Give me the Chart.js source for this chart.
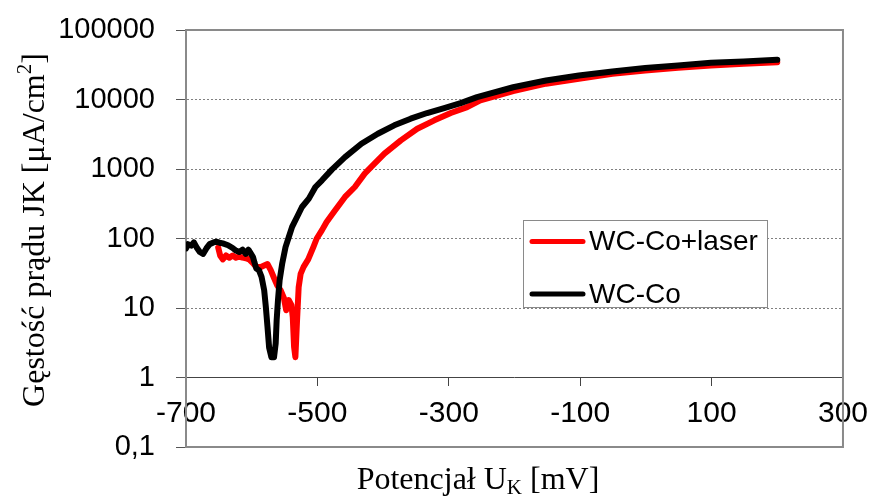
<!DOCTYPE html>
<html>
<head>
<meta charset="utf-8">
<script src="https://cdn.jsdelivr.net/npm/chart.js@4/dist/chart.umd.min.js"></script>
<style>
  html, body { margin: 0; padding: 0; background: #fff; }
  #wrap { width: 878px; height: 497px; }
</style>
</head>
<body>
<div id="wrap"><canvas id="chart"></canvas></div>
<script>
// potential U_K [mV] and current density [uA/cm2]
let laserU = [-651, -648, -644, -639, -634, -629, -624, -619, -614, -609, -604, -599, -593, -586, -581, -576, -571, -566, -561, -556, -551, -547.5, -543.5, -539.5, -537.5, -535.5, -533.5, -531, -528.5, -525.5, -521, -514, -506, -501, -493, -486, -473, -458, -443, -428, -418, -398, -373, -348, -322, -297, -272, -252, -202, -152, -102, -51, -1, 49, 99, 149, 200]
let laserJ = [74, 57, 50, 57, 53, 57, 53, 55, 53, 52, 50, 45, 39, 39, 41, 43, 35, 27, 21, 18, 14, 9.3, 13, 11, 7.4, 2.75, 1.96, 6.6, 20, 31, 39, 50, 76, 100, 132, 173, 255, 396, 551, 858, 1070, 1660, 2580, 3800, 5010, 6390, 7780, 9700, 13200, 16900, 19900, 23500, 26200, 28600, 30900, 32700, 34400]

let baseU = [-700, -697, -692, -688, -684, -679, -674, -669, -664, -659, -654, -649, -644, -636, -629, -624, -619, -614, -609, -605, -601, -598, -596, -593, -589, -585, -581, -578.5, -576, -573.5, -570, -566, -563.5, -562, -560, -557.5, -553.5, -548.5, -543.5, -538.5, -531, -523.5, -513, -503, -493, -478, -458, -433, -408, -383, -358, -333, -307, -282, -257, -202, -152, -102, -51, -1, 49, 99, 149, 200]
let baseJ = [72, 83, 79, 88, 75, 64, 60, 72, 83, 87, 90, 87, 85, 80, 73, 67, 64, 69, 60, 69, 60, 54, 46, 37, 35, 28, 18, 10.4, 5.4, 2.7, 1.96, 1.96, 3.1, 6.7, 13, 25, 44, 75, 105, 147, 204, 284, 375, 551, 687, 980, 1480, 2310, 3220, 4250, 5300, 6390, 7540, 8890, 10800, 15000, 18800, 22200, 25300, 28300, 30900, 33800, 35200, 37200]

let seriesNames = ["WC-Co+laser", "WC-Co"]
let seriesColors = ["#ff0000", "#000000"]
let xTicks = [-700, -500, -300, -100, 100, 300]
let yTicks = [0.1, 1, 10, 100, 1000, 10000, 100000]
let dottedAt = [10, 100, 1000, 10000]

function points(us, js) {
    return us.map((u, i) => ({ x: u, y: js[i] }))
}

// draws text pieces one after another, [text, font, shift]
function drawParts(ctx, parts, cx, y) {
    let total = 0
    parts.forEach(p => { ctx.font = p[1]; total += ctx.measureText(p[0]).width })
    let x = cx - total / 2
    parts.forEach(p => {
        ctx.font = p[1]
        ctx.fillText(p[0], x, y + p[2])
        x += ctx.measureText(p[0]).width
    })
}

let frame = {
    id: "frame",
    beforeDatasetsDraw(chart) {
        let a = chart.chartArea
        let ctx = chart.ctx
        ctx.save()
        ctx.strokeStyle = "#8a8a8a"
        ctx.lineWidth = 2
        ctx.strokeRect(a.left, a.top, a.right - a.left, a.bottom - a.top)
        ctx.restore()
    }
}

let legendBox = {
    id: "legendBox",
    afterDraw(chart) {
        let ctx = chart.ctx
        ctx.save()
        ctx.fillStyle = "#fff"
        ctx.strokeStyle = "#8a8a8a"
        ctx.lineWidth = 1
        ctx.fillRect(523.5, 220.5, 244, 87)
        ctx.strokeRect(523.5, 220.5, 244, 87)
        chart.data.datasets.forEach((ds, i) => {
            let y = 241.5 + i * 52.5
            ctx.strokeStyle = ds.borderColor
            ctx.lineWidth = 5
            ctx.lineCap = "round"
            ctx.beginPath()
            ctx.moveTo(532, y)
            ctx.lineTo(583, y)
            ctx.stroke()
            ctx.fillStyle = "#000"
            ctx.font = "28px 'Liberation Sans'"
            ctx.textBaseline = "middle"
            ctx.fillText(ds.label, 589, y + 1)
        })
        ctx.restore()
    }
}

// axis titles carry a subscript K and a superscript 2, so they are drawn here
let axisTitles = {
    id: "axisTitles",
    afterDraw(chart) {
        let ctx = chart.ctx
        let big = "32px 'Liberation Serif'"
        let small = "21px 'Liberation Serif'"
        ctx.save()
        ctx.fillStyle = "#000"
        ctx.textBaseline = "alphabetic"
        drawParts(ctx, [["Potencjał U", big, 0], ["K", small, 5], [" [mV]", big, 0]], 478, 489)
        ctx.translate(44, 230)
        ctx.rotate(-Math.PI / 2)
        drawParts(ctx, [["Gęstość prądu JK [μA/cm", big, 0], ["2", small, -13], ["]", big, 0]], 0, 0)
        ctx.restore()
    }
}

new Chart(document.getElementById("chart"), {
    type: "line",
    data: {
        datasets: [
            {
                label: seriesNames[0],
                data: points(laserU, laserJ),
                borderColor: seriesColors[0],
                borderWidth: 6,
                pointRadius: 0,
                tension: 0,
                borderJoinStyle: "round",
                borderCapStyle: "round",
                order: 2
            },
            {
                label: seriesNames[1],
                data: points(baseU, baseJ),
                borderColor: seriesColors[1],
                borderWidth: 6,
                pointRadius: 0,
                tension: 0,
                borderJoinStyle: "round",
                borderCapStyle: "round",
                order: 1
            }
        ]
    },
    options: {
        responsive: true,
        maintainAspectRatio: false,
        animation: false,
        layout: { padding: { top: 30, right: 28, bottom: 50, left: 0 } },
        plugins: {
            legend: { display: false },
            tooltip: { enabled: false }
        },
        scales: {
            x: {
                type: "linear",
                position: { y: 1 },
                min: -700,
                max: 300,
                afterBuildTicks: s => { s.ticks = xTicks.map(v => ({ value: v })) },
                ticks: {
                    font: { family: "Liberation Sans", size: 30 },
                    color: "#000",
                    padding: 10,
                    maxRotation: 0,
                    autoSkip: false
                },
                grid: { drawOnChartArea: false, tickLength: 8, tickColor: "#444", tickWidth: 1 },
                border: { color: "#444", width: 1 }
            },
            y: {
                type: "logarithmic",
                min: 0.1,
                max: 100000,
                afterBuildTicks: s => { s.ticks = yTicks.map(v => ({ value: v })) },
                afterFit: s => {
                    s.width = 186
                    s.paddingTop = 10
                    s.paddingBottom = 10
                },
                ticks: {
                    font: { family: "Liberation Sans", size: 29 },
                    color: "#000",
                    padding: 21,
                    autoSkip: false,
                    callback: v => v === 0.1 ? "0,1" : String(v)
                },
                grid: {
                    color: c => dottedAt.includes(c.tick.value) ? "#808080" : "rgba(0,0,0,0)",
                    lineWidth: 1,
                    tickLength: 10,
                    tickColor: "#555",
                    tickWidth: 1
                },
                border: { color: "#8a8a8a", width: 2, dash: [2, 2] }
            }
        }
    },
    plugins: [frame, legendBox, axisTitles]
})
</script>
</body>
</html>
